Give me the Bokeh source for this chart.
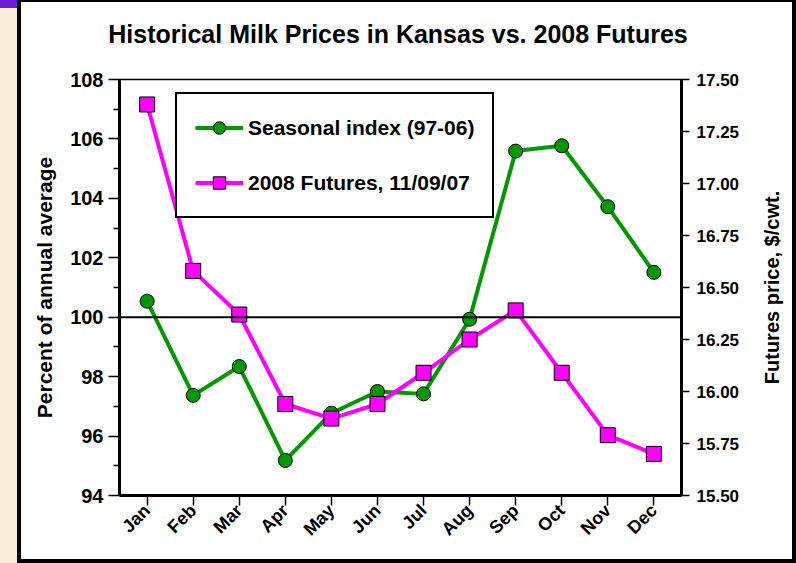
from math import pi
from bokeh.plotting import figure
from bokeh.layouts import row, column
from bokeh.models import (Range1d, FactorRange, LinearAxis, FixedTicker, Span, Legend,
                          LegendItem, PrintfTickFormatter, Div)
from bokeh.embed import file_html
from bokeh.resources import INLINE

# ---- data ----
months = ["Jan", "Feb", "Mar", "Apr", "May", "Jun", "Jul", "Aug", "Sep", "Oct", "Nov", "Dec"]
seasonal_index = [100.54, 97.37, 98.34, 95.18, 96.77, 97.50, 97.42, 99.93, 105.59, 105.77, 103.72, 101.51]
futures_2008 = [17.38, 16.58, 16.37, 15.94, 15.87, 15.94, 16.09, 16.25, 16.39, 16.09, 15.79, 15.70]
left_ticks = [94, 96, 98, 100, 102, 104, 106, 108]
left_minor = [95, 97, 99, 101, 103, 105, 107]
right_ticks = [15.50, 15.75, 16.00, 16.25, 16.50, 16.75, 17.00, 17.25, 17.50]

FONT = "Liberation Sans"
GREEN = "#009900"
MAGENTA = "#FF00FF"


def blank_figure(**kw):
    f = figure(output_backend="svg", toolbar_location=None,
               x_axis_location=None, y_axis_location=None, **kw)
    f.margin = 0
    f.outline_line_color = None
    f.grid.visible = False
    f.background_fill_color = "white"
    f.border_fill_color = "white"
    return f


# ---- title strip ----
tfig = blank_figure(width=771, height=50, min_border_top=46, min_border_bottom=0,
                    min_border_left=0, min_border_right=18,
                    title="Historical Milk Prices in Kansas vs. 2008 Futures")
tfig.title.text_font = FONT
tfig.title.text_font_size = "25px"
tfig.title.text_font_style = "bold"
tfig.title.text_color = "black"
tfig.title.align = "center"
tfig.title.standoff = 2

# ---- main chart ----
p = figure(width=729, height=507, output_backend="svg", toolbar_location=None,
           x_range=FactorRange(*months, range_padding=0.1, range_padding_units="absolute"),
           y_range=Range1d(94, 108),
           min_border_left=98, min_border_right=69, min_border_top=27, min_border_bottom=64)
p.margin = 0
p.extra_y_ranges = {"fut": Range1d(15.5, 17.5)}

p.background_fill_color = "white"
p.border_fill_color = "white"
p.outline_line_color = "black"
p.outline_line_width = 1.5
p.xgrid.visible = False
p.ygrid.visible = False

# left axis
ya = p.yaxis[0]
ya.ticker = FixedTicker(ticks=left_ticks, minor_ticks=left_minor)
ya.axis_line_width = 3
ya.major_tick_in = 0
ya.major_tick_out = 11
ya.minor_tick_in = 0
ya.minor_tick_out = 6
ya.major_tick_line_width = 1.5
ya.minor_tick_line_width = 1.5
ya.major_label_text_font = FONT
ya.major_label_text_font_size = "20px"
ya.major_label_text_font_style = "bold"
ya.major_label_text_color = "black"
ya.major_label_standoff = 5
ya.axis_label = "Percent of annual average"
ya.axis_label_text_font = FONT
ya.axis_label_text_font_size = "21px"
ya.axis_label_text_font_style = "bold"
ya.axis_label_text_color = "black"
ya.axis_label_standoff = 11

# right axis
ra = LinearAxis(y_range_name="fut", ticker=FixedTicker(ticks=right_ticks, minor_ticks=[]),
                formatter=PrintfTickFormatter(format="%.2f"))
ra.axis_line_width = 3
ra.major_tick_in = 0
ra.major_tick_out = 8
ra.minor_tick_in = 0
ra.minor_tick_out = 0
ra.major_tick_line_width = 1.5
ra.major_label_text_font = FONT
ra.major_label_text_font_size = "17px"
ra.major_label_text_font_style = "bold"
ra.major_label_text_color = "black"
ra.major_label_standoff = 7
p.add_layout(ra, "right")

# x axis
xa = p.xaxis[0]
xa.axis_line_width = 3
xa.major_tick_in = 0
xa.major_tick_out = 10
xa.major_tick_line_width = 1.5
xa.major_label_orientation = pi / 4
xa.major_label_text_font = FONT
xa.major_label_text_font_size = "18px"
xa.major_label_text_font_style = "bold"
xa.major_label_text_color = "black"
xa.major_label_standoff = 2

# reference line at 100
p.add_layout(Span(location=100, dimension="width", line_color="black", line_width=2))

# series
g_line = p.line(months, seasonal_index, line_color=GREEN, line_width=4)
g_pts = p.scatter(months, seasonal_index, marker="circle", size=14,
                  fill_color=GREEN, line_color="black", line_width=1)
m_line = p.line(months, futures_2008, line_color=MAGENTA, line_width=4, y_range_name="fut")
m_pts = p.scatter(months, futures_2008, marker="square", size=15,
                  fill_color=MAGENTA, line_color="black", line_width=1, y_range_name="fut")

legend = Legend(items=[LegendItem(label="Seasonal index (97-06)", renderers=[g_line, g_pts]),
                       LegendItem(label="2008 Futures, 11/09/07", renderers=[m_line, m_pts])],
                location=(56, 277))
legend.label_text_font = FONT
legend.label_text_font_size = "21px"
legend.label_text_font_style = "bold"
legend.label_text_color = "black"
legend.glyph_width = 48
legend.glyph_height = 31
legend.label_height = 31
legend.spacing = 24
legend.padding = 18
legend.margin = 0
legend.border_line_color = "black"
legend.border_line_alpha = 1
legend.border_line_width = 2.5
legend.background_fill_color = "white"
legend.background_fill_alpha = 1
p.add_layout(legend)

# ---- right axis title (reads bottom-to-top), centred on the plot frame ----
rfig = blank_figure(width=42, height=507, min_border_top=27, min_border_bottom=64,
                    min_border_left=40, min_border_right=0,
                    title="Futures price, $/cwt.", title_location="left")
rfig.title.text_font = FONT
rfig.title.text_font_size = "20px"
rfig.title.text_font_style = "bold"
rfig.title.text_color = "black"
rfig.title.align = "center"
rfig.title.standoff = 20

# ---- page decoration: cream strip with purple cap, black slide frame ----
def block(w, h, color):
    return Div(text="", width=w, height=h, margin=0,
               styles={"background-color": color})

left_strip = column(block(17, 8, "#6E1ED2"), block(17, 555, "#F9EED8"), spacing=0, margin=0)
centre = column(block(771, 2, "black"), tfig, row(p, rfig, spacing=0, margin=0),
                block(771, 4, "black"), spacing=0, margin=0)
page = row(left_strip, block(4, 563, "black"), centre, block(4, 563, "black"), spacing=0, margin=0)

open("out.html", "w").write(file_html(page, INLINE))
